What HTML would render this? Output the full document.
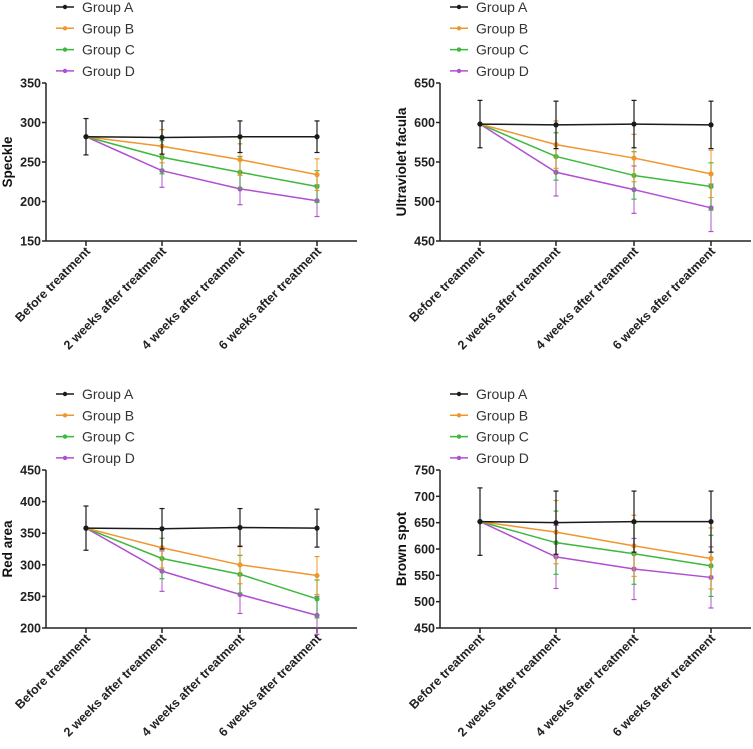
<!DOCTYPE html>
<html><head><meta charset="utf-8"><style>
body{margin:0;background:#fff;width:753px;height:744px;overflow:hidden}
svg text{font-family:"Liberation Sans",Arial,sans-serif}
</style></head><body>
<svg id="chart" width="753" height="744" xmlns="http://www.w3.org/2000/svg"></svg>
<script>
const categories=["Before treatment","2 weeks after treatment","4 weeks after treatment","6 weeks after treatment"];
const groups=["Group A","Group B","Group C","Group D"];
const colors=["#1a1a1a","#f0962e","#3cb83c","#b04fd0"];
const panelTitles=["Speckle","Ultraviolet facula","Red area","Brown spot"];
const yTicks=[[150,200,250,300,350],[450,500,550,600,650],[200,250,300,350,400,450],[450,500,550,600,650,700,750]];
const speckleA=[282,281,282,282],speckleB=[282,270,253,234],speckleC=[282,256,237,219],speckleD=[282,239,216,201];
const speckleErr=[23,21,20,20];
const uvA=[598,597,598,597],uvB=[598,572,555,535],uvC=[598,557,533,519],uvD=[598,537,515,492];
const uvErr=[30,30,30,30];
const redA=[358,357,359,358],redB=[358,327,300,283],redC=[358,310,285,246],redD=[358,290,253,220];
const redErr=[35,32,30,30];
const brownA=[652,650,652,652],brownB=[652,632,606,582],brownC=[652,612,591,568],brownD=[652,585,562,546];
const brownErr=[64,60,58,58];
const series=[[speckleA,speckleB,speckleC,speckleD],[uvA,uvB,uvC,uvD],[redA,redB,redC,redD],[brownA,brownB,brownC,brownD]];
const errs=[speckleErr,uvErr,redErr,brownErr];
const svg=document.getElementById('chart');
const NS="http://www.w3.org/2000/svg";
function mk(tag,attrs,parent,text){const e=document.createElementNS(NS,tag);for(const k in attrs)e.setAttribute(k,attrs[k]);if(text!==undefined)e.textContent=text;parent.appendChild(e);return e;}
const panels=[{ox:0,oy:0},{ox:394,oy:0},{ox:0,oy:387},{ox:394,oy:387}];
panels.forEach((p,pi)=>{
  const g=mk('g',{},svg);
  
  
  const ax=46+p.ox, top=83+p.oy, bot=241+p.oy, right=357+p.ox;
  const ticks=yTicks[pi];const ymin=ticks[0],ymax=ticks[ticks.length-1];
  const y=v=>bot-(v-ymin)/(ymax-ymin)*(bot-top);
  const xs=[86,162,240,317];
  const x=i=>xs[i]+p.ox;
  groups.forEach((gn,gi)=>{
    const ly=7+gi*21.3+p.oy;
    const lg=mk('g',{},g);
    
    
    mk('line',{x1:56+p.ox,x2:74+p.ox,y1:ly,y2:ly,stroke:colors[gi],'stroke-width':1.5},lg);
    mk('circle',{cx:65+p.ox,cy:ly,r:2.2,fill:colors[gi]},lg);
    mk('text',{x:82+p.ox,y:ly+5,'font-size':14,fill:'#333'},lg,gn);
  });
  const yax=mk('line',{x1:ax,x2:ax,y1:top,y2:bot,stroke:'#222','stroke-width':1.5},g);
  
  const xax=mk('line',{x1:ax,x2:right,y1:bot,y2:bot,stroke:'#222','stroke-width':1.5},g);
  
  ticks.forEach(t=>{
    mk('line',{x1:ax-4,x2:ax,y1:y(t),y2:y(t),stroke:'#222','stroke-width':1.5},g);
    const tl=mk('text',{x:ax-5,y:y(t)+4.5,'font-size':12.5,'font-weight':'bold','text-anchor':'end',fill:'#222'},g,String(t));
    
  });
  const yt=mk('text',{x:0,y:0,'font-size':13.5,'font-weight':'bold','text-anchor':'middle',fill:'#111',transform:`translate(${p.ox+12},${(top+bot)/2}) rotate(-90)`},g,panelTitles[pi]);
  
  categories.forEach((c,i)=>{
    mk('line',{x1:x(i),x2:x(i),y1:bot,y2:bot+5,stroke:'#222','stroke-width':1.5},g);
    const cl=mk('text',{x:0,y:0,'font-size':12.5,'font-weight':'bold','text-anchor':'end',fill:'#222',transform:`translate(${x(i)+5},${bot+11}) rotate(-45)`},g,c);
    
  });
  [3,2,1,0].forEach(si=>{
    const vals=series[pi][si];const er=errs[pi];
    const sg=mk('g',{},g);
    
    
    vals.forEach((v,i)=>{
      if(si>0&&i===0)return;
      const e=er[i];
      mk('line',{x1:x(i),x2:x(i),y1:y(v-e),y2:y(v+e),stroke:colors[si],'stroke-width':1.2,opacity:si?0.8:1},sg);
      mk('line',{x1:x(i)-2.5,x2:x(i)+2.5,y1:y(v-e),y2:y(v-e),stroke:colors[si],'stroke-width':1.2},sg);
      mk('line',{x1:x(i)-2.5,x2:x(i)+2.5,y1:y(v+e),y2:y(v+e),stroke:colors[si],'stroke-width':1.2},sg);
    });
    const pts=vals.map((v,i)=>x(i)+','+y(v)).join(' ');
    const pl=mk('polyline',{points:pts,fill:'none',stroke:colors[si],'stroke-width':1.5},sg);
    
    vals.forEach((v,i)=>{
      const pt=mk('circle',{cx:x(i),cy:y(v),r:2.6,fill:colors[si]},sg);
      
    });
  });
});
</script>
</body></html>
